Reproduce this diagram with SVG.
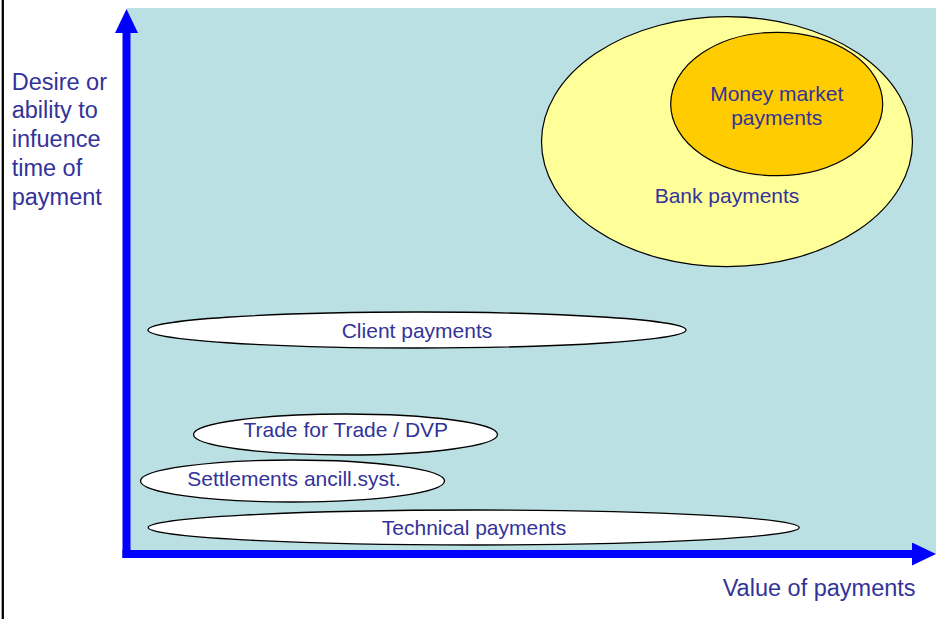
<svg xmlns="http://www.w3.org/2000/svg" width="949" height="619" viewBox="0 0 949 619">
  <style>
    .lbl { font-family: "Liberation Sans", Arial, sans-serif; font-size: 21px; fill: #333399; }
    .axis-lbl { font-family: "Liberation Sans", Arial, sans-serif; font-size: 23.5px; fill: #333399; }
    .band { fill: #FFFFFF; stroke: #000000; stroke-width: 1.3; }
    .axis { stroke: #0000FF; stroke-width: 8; fill: none; }
  </style>
  <defs>
    <marker id="arrow" markerUnits="userSpaceOnUse" markerWidth="24" markerHeight="23" refX="0" refY="11.5" orient="auto">
      <path d="M0,0 L24,11.5 L0,23 Z" fill="#0000FF"/>
    </marker>
  </defs>

  <rect x="0" y="0" width="949" height="619" fill="#FFFFFF"/>
  <!-- left frame edge -->
  <line x1="2.8" y1="0" x2="2.8" y2="619" stroke="#000000" stroke-width="2.3"/>

  <!-- plot area -->
  <rect id="plot-area" x="127" y="8" width="809" height="546" fill="#BBE0E3"/>

  <g id="bank-payments">
    <ellipse cx="727" cy="141.7" rx="185.5" ry="125" fill="#FFFF99" stroke="#000000" stroke-width="1.2"/>
    <text class="lbl" x="727" y="203" text-anchor="middle">Bank payments</text>
  </g>

  <g id="money-market-payments">
    <ellipse cx="776.7" cy="104" rx="106" ry="71.7" fill="#FFCC00" stroke="#000000" stroke-width="1.2"/>
    <text class="lbl" x="776.7" y="101" text-anchor="middle">Money market</text>
    <text class="lbl" x="776.7" y="125" text-anchor="middle">payments</text>
  </g>

  <g id="client-payments">
    <ellipse class="band" cx="417" cy="330" rx="269" ry="18"/>
    <text class="lbl" x="417" y="338" text-anchor="middle">Client payments</text>
  </g>

  <g id="trade-for-trade">
    <ellipse class="band" cx="345.5" cy="434.5" rx="152" ry="20.5"/>
    <text class="lbl" x="345.8" y="437" text-anchor="middle">Trade for Trade / DVP</text>
  </g>

  <g id="settlements">
    <ellipse class="band" cx="292.5" cy="481" rx="152" ry="21"/>
    <text class="lbl" x="294" y="486" text-anchor="middle">Settlements ancill.syst.</text>
  </g>

  <g id="technical-payments">
    <ellipse class="band" cx="473.7" cy="527.5" rx="325.5" ry="17.5"/>
    <text class="lbl" x="474" y="535" text-anchor="middle">Technical payments</text>
  </g>

  <!-- axes -->
  <g id="connectors">
    <line class="axis" x1="126.5" y1="558" x2="126.5" y2="33" marker-end="url(#arrow)"/>
    <line class="axis" x1="122.5" y1="554" x2="912" y2="554" marker-end="url(#arrow)"/>
  </g>

  <g id="y-axis-label">
    <text class="axis-lbl" x="11.7" y="89.5">Desire or</text>
    <text class="axis-lbl" x="11.7" y="118.3">ability to</text>
    <text class="axis-lbl" x="11.7" y="147.1">infuence</text>
    <text class="axis-lbl" x="11.7" y="175.9">time of</text>
    <text class="axis-lbl" x="11.7" y="204.7">payment</text>
  </g>

  <g id="x-axis-label">
    <text class="axis-lbl" x="722.7" y="596">Value of payments</text>
  </g>
</svg>
